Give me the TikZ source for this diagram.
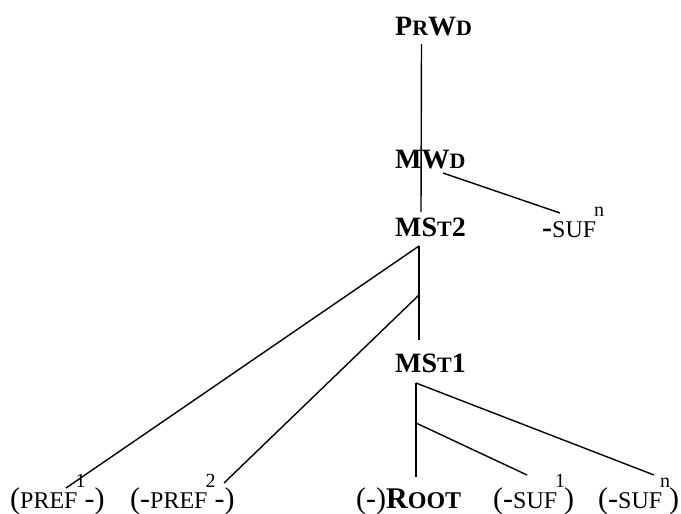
\documentclass[tikz,border=0pt]{standalone}
\usepackage{fontspec}
\setmainfont{Liberation Serif}
\usetikzlibrary{positioning}
% fake small capitals and raised superscripts
\newcommand{\smc}[1]{{\fontsize{22}{22}\selectfont #1}}
\newcommand{\smcl}[1]{{\fontsize{24}{24}\selectfont #1}}
\newcommand{\hisup}[1]{\kern-2pt\raisebox{21pt}{\fontsize{20}{20}\selectfont #1}\kern-1pt}

\begin{document}
\begin{tikzpicture}[
      x=1pt, y=-1pt,
      font=\fontsize{28}{30}\selectfont,
      lab/.style={anchor=base west, inner sep=0pt, font=\fontsize{28}{30}\selectfont\bfseries},
      leaf/.style={anchor=base west, inner sep=0pt, font=\fontsize{30}{32}\selectfont},
      branch/.style={draw=black, line width=1.4pt}
    ]
    \useasboundingbox (0,0) rectangle (681,514);

    % category labels
    \node[lab] (prwd) at (395,35)  {P\smc{R}W\smc{D}};
    \node[lab] (mwd)  at (395,168) {MW\smc{D}};
    \node[lab] (mst2) at (395,236) {MS\smc{T}2};
    \node[lab] (mst1) at (395,372) {MS\smc{T}1};

    % affixes and root
    \node[leaf] (sufw)  at (542,237) {\textbf{-}\smcl{SUF}\hisup{n}};
    \node[leaf] (prefa) at (10,508)  {(\smcl{PREF}\hisup{1}-)};
    \node[leaf] (prefb) at (130,508) {(-\smcl{PREF}\hisup{2}-)};
    \node[leaf] (root)  at (356,508) {(-)\textbf{R\smcl{OOT}}};
    \node[leaf] (sufa)  at (493,508) {(-\smcl{SUF}\hisup{1})};
    \node[leaf] (sufb)  at (598,508) {(-\smcl{SUF}\hisup{n})};

    % branch points
    \coordinate (prwd-foot) at (421.5,44);
    \coordinate (mst2-top)  at (421,212);
    \coordinate (mwd-end)   at (443,173);
    \coordinate (sufw-end)  at (560,213);
    \coordinate (mst2-foot) at (419,246);
    \coordinate (mst2-mid)  at (419,295);
    \coordinate (mst1-top)  at (419,340);
    \coordinate (prefa-end) at (66,488);
    \coordinate (prefb-end) at (224,483);
    \coordinate (mst1-foot) at (416,383);
    \coordinate (mst1-mid)  at (416,423);
    \coordinate (root-end)  at (416,477);
    \coordinate (sufa-end)  at (527,475);
    \coordinate (sufb-end)  at (654,475);

    \draw[branch] (prwd-foot) -- (mst2-top);
    \draw[branch] (mwd-end) -- (sufw-end);
    \draw[branch] (mst2-foot) -- (mst1-top);
    \draw[branch] (mst2-foot) -- (prefa-end);
    \draw[branch] (mst2-mid) -- (prefb-end);
    \draw[branch] (mst1-foot) -- (root-end);
    \draw[branch] (mst1-foot) -- (sufb-end);
    \draw[branch] (mst1-mid) -- (sufa-end);
  \end{tikzpicture}
\end{document}
